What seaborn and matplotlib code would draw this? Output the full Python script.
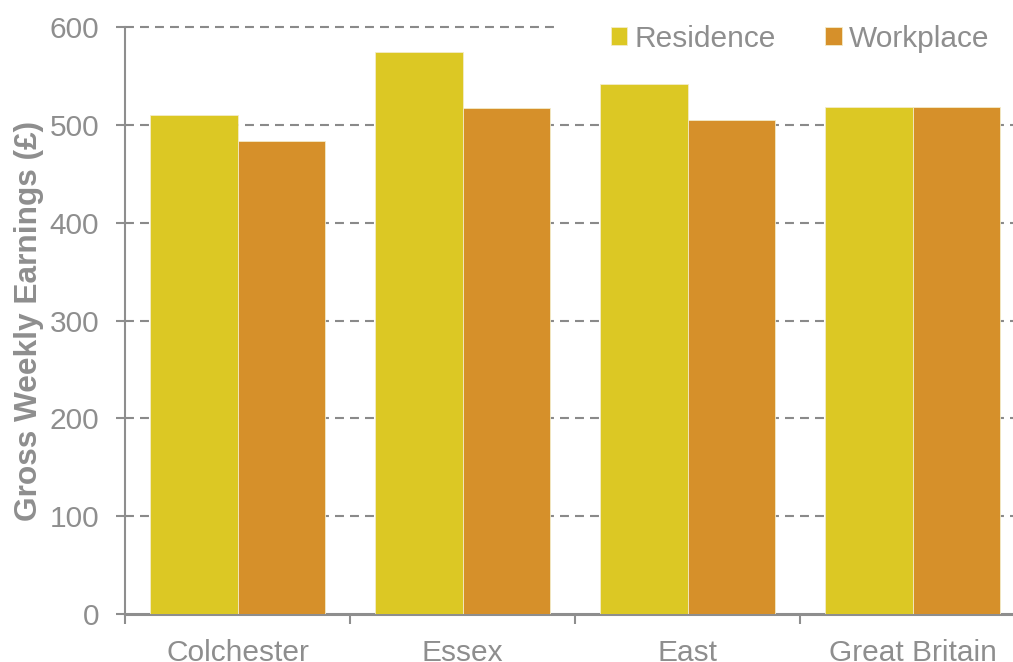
import numpy as np
import matplotlib
matplotlib.use("Agg")
import matplotlib.pyplot as plt
import pandas as pd
import seaborn as sns

# data
areas = ["Colchester", "Essex", "East", "Great Britain"]
residence = [510, 574, 542, 518]
workplace = [483, 517, 505, 518]
series = ["Residence", "Workplace"]
y_ticks = [0, 100, 200, 300, 400, 500, 600]

GREY = "#8e8e8e"
palette = ["#DCC824", "#D6902A"]

sns.set_theme(style="white")
plt.rcParams["font.family"] = ["Liberation Sans", "DejaVu Sans"]

df = pd.DataFrame({
    "area": areas * 2,
    "earnings": residence + workplace,
    "type": [series[0]] * len(areas) + [series[1]] * len(areas),
})

fig = plt.figure(figsize=(10.13, 6.62), dpi=100)
ax = fig.add_axes([125 / 1013, 48 / 662, 900 / 1013, 587 / 662])

sns.barplot(data=df, x="area", y="earnings", hue="type", order=areas,
            hue_order=series, palette=palette, width=0.775, saturation=1,
            edgecolor="#f3ecc8", linewidth=0.6, ax=ax, zorder=3)

ax.set_ylim(0, 600)
ax.set_xlim(-0.5, len(areas) - 0.5)
ax.set_yticks(y_ticks)
ax.set_xlabel("")
ax.set_ylabel("Gross Weekly Earnings (£)", fontsize=22.8, fontweight="bold",
              color=GREY, labelpad=4)

for v in y_ticks[1:]:
    ax.axhline(v, color="#8a8a8a", lw=1.5, ls=(0, (4.3, 2.9)), zorder=0.5,
               clip_on=False)

for s in ["top", "right"]:
    ax.spines[s].set_visible(False)
ax.spines["left"].set_color(GREY)
ax.spines["left"].set_linewidth(1.5)
ax.spines["bottom"].set_color(GREY)
ax.spines["bottom"].set_linewidth(2.2)

ax.tick_params(axis="y", which="major", length=6.5, width=1.5, color=GREY,
               labelcolor=GREY, labelsize=21.5, pad=12, left=True)
ax.tick_params(axis="x", which="major", length=0, labelcolor=GREY,
               labelsize=21.5, pad=18)
ax.set_xticks(np.arange(-0.5, len(areas)), minor=True)
ax.tick_params(axis="x", which="minor", length=7, width=1.5, color=GREY,
               bottom=True, direction="out")

leg = ax.legend(loc="upper left", bbox_to_anchor=(560 / 1013, 1 + 26 / 662),
                bbox_transform=fig.transFigure, ncol=2, frameon=True,
                fontsize=21.5, handlelength=0.55, handleheight=0.55,
                handletextpad=0.25, columnspacing=1.65, borderpad=1.7,
                borderaxespad=0)
leg.get_frame().set_facecolor("white")
leg.get_frame().set_edgecolor("none")
leg.get_frame().set_alpha(1)
leg.set_zorder(1)
for t in leg.get_texts():
    t.set_color(GREY)

fig.savefig("out.png", dpi=100)
